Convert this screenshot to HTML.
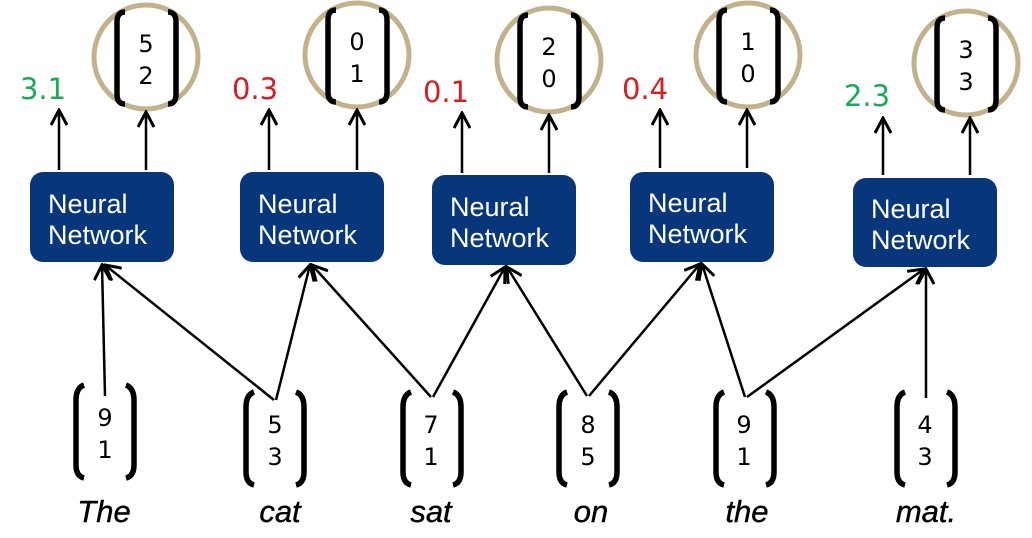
<!DOCTYPE html>
<html><head><meta charset="utf-8"><style>
html,body{margin:0;padding:0;background:#fff;}
svg{display:block;}
.nn{font-family:"Liberation Sans",Arial,sans-serif;font-size:27px;fill:#fff;}
.num{font-family:"DejaVu Sans","Liberation Sans",sans-serif;font-size:24px;fill:#000;text-anchor:middle;}
.sc{font-family:"DejaVu Sans","Liberation Sans",sans-serif;font-size:29px;text-anchor:middle;}
.w{font-family:"Liberation Sans",sans-serif;font-style:italic;font-size:31px;text-anchor:middle;fill:#000;stroke:#000;stroke-width:0.4;}
</style></head><body>
<svg width="1032" height="538" viewBox="0 0 1032 538" xmlns="http://www.w3.org/2000/svg">
<defs>
<marker id="b" markerWidth="18" markerHeight="18" refX="16" refY="9" orient="auto" markerUnits="userSpaceOnUse" viewBox="0 0 18 18">
<path d="M1,1 L16,9 L1,17" fill="none" stroke="#000" stroke-width="3"/>
</marker>
</defs>
<g fill="none" stroke="#c2b28c" stroke-width="5">
<circle cx="146" cy="57" r="52"/>
<circle cx="357" cy="55" r="52"/>
<circle cx="549" cy="60" r="52"/>
<circle cx="748" cy="55" r="52"/>
<circle cx="966" cy="63" r="52"/>
</g>
<g fill="none" stroke="#000" stroke-width="5.5">
<path d="M125,12 Q117,12 117,22 L117,94 Q117,104 125,104"/><path d="M168,12 Q176,12 176,22 L176,94 Q176,104 168,104"/>
<path d="M336,10 Q328,10 328,20 L328,92 Q328,102 336,102"/><path d="M379,10 Q387,10 387,20 L387,92 Q387,102 379,102"/>
<path d="M528,15 Q520,15 520,25 L520,97 Q520,107 528,107"/><path d="M571,15 Q579,15 579,25 L579,97 Q579,107 571,107"/>
<path d="M727,10 Q719,10 719,20 L719,92 Q719,102 727,102"/><path d="M770,10 Q778,10 778,20 L778,92 Q778,102 770,102"/>
<path d="M945,18 Q937,18 937,28 L937,100 Q937,110 945,110"/><path d="M988,18 Q996,18 996,28 L996,100 Q996,110 988,110"/>
</g>
<text class="num" x="146" y="52">5</text><text class="num" x="146" y="84">2</text>
<text class="num" x="357" y="50">0</text><text class="num" x="357" y="82">1</text>
<text class="num" x="549" y="55">2</text><text class="num" x="549" y="87">0</text>
<text class="num" x="748" y="50">1</text><text class="num" x="748" y="82">0</text>
<text class="num" x="966" y="58">3</text><text class="num" x="966" y="90">3</text>
<text class="sc" x="43" y="99" fill="#1aab55">3.1</text>
<text class="sc" x="255" y="99" fill="#d51d22">0.3</text>
<text class="sc" x="446" y="102" fill="#d51d22">0.1</text>
<text class="sc" x="645" y="99" fill="#d51d22">0.4</text>
<text class="sc" x="867" y="106" fill="#1aab55">2.3</text>
<g stroke="#000" stroke-width="2.5" marker-end="url(#b)">
<line x1="59" y1="170" x2="59" y2="110"/><line x1="146" y1="170" x2="146" y2="112"/>
<line x1="269" y1="170" x2="269" y2="110"/><line x1="357" y1="170" x2="357" y2="110"/>
<line x1="462" y1="173" x2="462" y2="113"/><line x1="549" y1="173" x2="549" y2="115"/>
<line x1="660" y1="168" x2="660" y2="110"/><line x1="747" y1="168" x2="747" y2="110"/>
<line x1="883" y1="175" x2="883" y2="118"/><line x1="970" y1="175" x2="970" y2="118"/>
</g>
<g fill="#07367a">
<rect x="30" y="172" width="144" height="90" rx="13"/>
<rect x="240" y="172" width="144" height="90" rx="13"/>
<rect x="432" y="175" width="144" height="90" rx="13"/>
<rect x="630" y="172" width="144" height="90" rx="13"/>
<rect x="853" y="178" width="144" height="89" rx="13"/>
</g>
<text class="nn" x="48" y="213">Neural</text><text class="nn" x="48" y="244">Network</text>
<text class="nn" x="258" y="213">Neural</text><text class="nn" x="258" y="244">Network</text>
<text class="nn" x="450" y="216">Neural</text><text class="nn" x="450" y="247">Network</text>
<text class="nn" x="648" y="212">Neural</text><text class="nn" x="648" y="243">Network</text>
<text class="nn" x="871" y="218">Neural</text><text class="nn" x="871" y="249">Network</text>
<g stroke="#000" stroke-width="2.5" fill="none" marker-end="url(#b)">
<line x1="105" y1="396" x2="102" y2="265"/>
<line x1="274" y1="400" x2="105" y2="265"/>
<line x1="276" y1="400" x2="310" y2="265"/>
<line x1="431" y1="397" x2="312" y2="265"/>
<line x1="433" y1="397" x2="505" y2="267"/>
<line x1="587" y1="396" x2="507" y2="267"/>
<line x1="589" y1="396" x2="700" y2="264"/>
<line x1="745" y1="397" x2="702" y2="264"/>
<line x1="747" y1="397" x2="924" y2="269"/>
<line x1="926" y1="398" x2="926" y2="269"/>
</g>
<g fill="none" stroke="#000" stroke-width="5.5">
<path d="M84,385 Q76,388 76,400 L76,465 Q76,476 84,478"/><path d="M126,385 Q134,388 134,400 L134,465 Q134,476 126,478"/>
<path d="M254,392 Q246,395 246,407 L246,472 Q246,483 254,485"/><path d="M296,392 Q304,395 304,407 L304,472 Q304,483 296,485"/>
<path d="M411,392 Q403,395 403,407 L403,472 Q403,483 411,485"/><path d="M453,392 Q461,395 461,407 L461,472 Q461,483 453,485"/>
<path d="M567,392 Q559,395 559,407 L559,472 Q559,483 567,485"/><path d="M609,392 Q617,395 617,407 L617,472 Q617,483 609,485"/>
<path d="M724,392 Q716,395 716,407 L716,472 Q716,483 724,485"/><path d="M766,392 Q774,395 774,407 L774,472 Q774,483 766,485"/>
<path d="M905,392 Q897,395 897,407 L897,472 Q897,483 905,485"/><path d="M947,392 Q955,395 955,407 L955,472 Q955,483 947,485"/>
</g>
<text class="num" x="105" y="426">9</text><text class="num" x="105" y="458">1</text>
<text class="num" x="275" y="433">5</text><text class="num" x="275" y="465">3</text>
<text class="num" x="431" y="433">7</text><text class="num" x="431" y="465">1</text>
<text class="num" x="588" y="433">8</text><text class="num" x="588" y="465">5</text>
<text class="num" x="744" y="433">9</text><text class="num" x="744" y="465">1</text>
<text class="num" x="925" y="433">4</text><text class="num" x="925" y="465">3</text>
<text class="w" x="104" y="522">The</text>
<text class="w" x="280" y="522">cat</text>
<text class="w" x="431" y="522">sat</text>
<text class="w" x="591" y="522">on</text>
<text class="w" x="747" y="522">the</text>
<text class="w" x="926" y="522">mat.</text>
</svg>
</body></html>
